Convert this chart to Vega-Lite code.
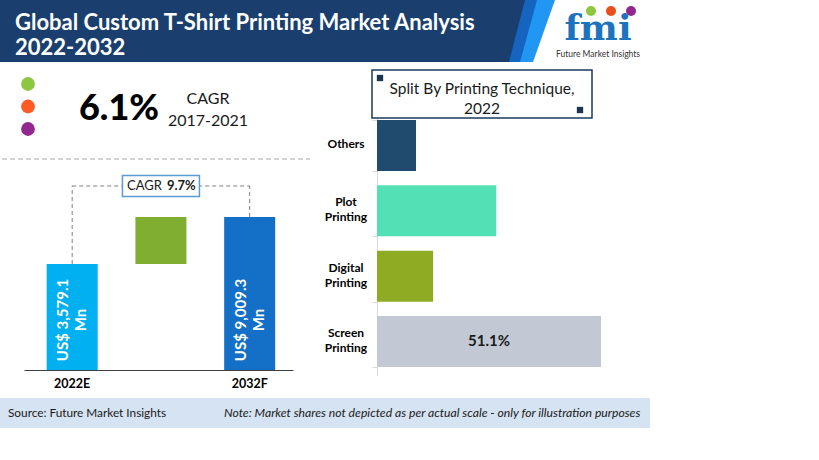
{
  "$schema": "https://vega.github.io/schema/vega-lite/v6.json",
  "width": 819,
  "height": 460,
  "autosize": {"type": "none"},
  "padding": 0,
  "background": "white",
  "config": {"view": {"stroke": null}, "font": "Lato", "text": {"font": "Lato"}, "axis": {"labelFont": "Lato"}},
  "resolve": {"scale": {"x": "independent", "y": "independent", "color": "independent"}, "axis": {"x": "independent", "y": "independent"}},
  "layer": [
    {"data": {"values": [{}]}, "mark": {"type": "point", "shape": "M0,0H555L533,62H0Z", "size": 4, "filled": true, "fill": "#2196f3", "opacity": 1, "strokeWidth": 0}, "encoding": {"x": {"value": 0}, "y": {"value": 0}}},
    {"data": {"values": [{}]}, "mark": {"type": "point", "shape": "M0,0H537L520,62H0Z", "size": 4, "filled": true, "fill": "#1565c0", "opacity": 1, "strokeWidth": 0}, "encoding": {"x": {"value": 0}, "y": {"value": 0}}},
    {"data": {"values": [{}]}, "mark": {"type": "point", "shape": "M0,0H525L509,62H0Z", "size": 4, "filled": true, "fill": "#1a3f6e", "opacity": 1, "strokeWidth": 0}, "encoding": {"x": {"value": 0}, "y": {"value": 0}}},
    {"data": {"values": [{"line": "a", "t": "Global Custom T-Shirt Printing Market Analysis"}, {"line": "b", "t": "2022-2032"}]}, "mark": {"type": "text", "align": "left", "baseline": "alphabetic", "fontSize": 22, "fontWeight": "bold", "color": "white"}, "encoding": {"x": {"value": 15}, "y": {"field": "line", "type": "nominal", "scale": {"type": "point", "domain": ["a", "b"], "range": [30, 55], "padding": 0}, "axis": null}, "text": {"field": "t"}}},
    {"data": {"values": [{"t": "fmi"}]}, "mark": {"type": "text", "align": "center", "baseline": "alphabetic", "font": "DejaVu Serif", "fontSize": 36, "fontWeight": "bold", "color": "#1e73be"}, "encoding": {"x": {"value": 598}, "y": {"value": 40}, "text": {"field": "t"}}},
    {"data": {"values": [{"c": "g"}, {"c": "r"}, {"c": "p"}]}, "mark": {"type": "point", "filled": true, "opacity": 1, "size": 100}, "encoding": {"x": {"field": "c", "type": "nominal", "scale": {"type": "point", "domain": ["g", "r", "p"], "range": [591, 631], "padding": 0}, "axis": null}, "y": {"value": 11}, "color": {"field": "c", "type": "nominal", "scale": {"domain": ["g", "r", "p"], "range": ["#8dc63f", "#e94e1b", "#92278f"]}, "legend": null}}},
    {"data": {"values": [{"t": "Future Market Insights"}]}, "mark": {"type": "text", "align": "center", "baseline": "middle", "fontSize": 8.5, "color": "#333333"}, "encoding": {"x": {"value": 598}, "y": {"value": 54}, "text": {"field": "t"}}},
    {"data": {"values": [{"k": "a"}, {"k": "b"}, {"k": "c"}]}, "mark": {"type": "point", "filled": true, "opacity": 1, "size": 190}, "encoding": {"x": {"value": 28}, "y": {"field": "k", "type": "nominal", "scale": {"type": "point", "domain": ["a", "b", "c"], "range": [84, 129], "padding": 0}, "axis": null}, "color": {"field": "k", "type": "nominal", "scale": {"domain": ["a", "b", "c"], "range": ["#8dc63f", "#ff5a26", "#92278f"]}, "legend": null}}},
    {"data": {"values": [{"t": "6.1%"}]}, "mark": {"type": "text", "align": "center", "baseline": "alphabetic", "fontSize": 36, "fontWeight": 900, "color": "#000000"}, "encoding": {"x": {"value": 119}, "y": {"value": 120}, "text": {"field": "t"}}},
    {"data": {"values": [{"t": "CAGR\n2017-2021"}]}, "mark": {"type": "text", "lineBreak": "\n", "align": "center", "baseline": "alphabetic", "fontSize": 16, "fontWeight": "normal", "color": "#1a1a1a", "lineHeight": 22}, "encoding": {"x": {"value": 208}, "y": {"value": 104}, "text": {"field": "t"}}},
    {"data": {"values": [{}]}, "mark": {"type": "rule", "strokeDash": [5, 3], "color": "#a6a6a6", "strokeWidth": 1}, "encoding": {"x": {"value": 2}, "x2": {"value": 310}, "y": {"value": 159}}},
    {
      "data": {"values": [
        {"stage": "2022E", "kind": "total", "start": 0, "value": 3579.1, "label": "US$ 3,579.1\nMn"},
        {"stage": "Growth", "kind": "increment", "start": 3579.1, "value": 9009.3, "label": ""},
        {"stage": "2032F", "kind": "total", "start": 0, "value": 9009.3, "label": "US$ 9,009.3\nMn"}
      ]},
      "encoding": {
        "x": {"field": "stage", "type": "nominal", "sort": null,
          "scale": {"domain": ["2022E", "Growth", "2032F"], "range": [24, 293], "paddingInner": 0.425, "paddingOuter": 0.228, "align": 0.56},
          "axis": {"orient": "bottom", "offset": -90, "title": null, "ticks": false, "grid": false, "labelAngle": 0, "labelBaseline": "top", "domainColor": "#404040", "domainWidth": 1, "labelFontWeight": "bold", "labelFontSize": 12.5, "labelColor": "#000000", "labelPadding": 7, "labelExpr": "datum.value == 'Growth' ? '' : datum.value"}}
      },
      "layer": [
        {"mark": {"type": "bar"}, "encoding": {
          "y": {"field": "value", "type": "quantitative", "scale": {"type": "symlog", "constant": 660, "domain": [0, 19536], "range": [370, 175], "nice": false, "zero": true}, "axis": null},
          "y2": {"field": "start"},
          "color": {"field": "stage", "type": "nominal", "scale": {"domain": ["2022E", "Growth", "2032F"], "range": ["#00b0f0", "#80ae30", "#1370c6"]}, "legend": null}}},
        {"transform": [{"filter": "datum.kind == 'total'"}], "mark": {"type": "rule", "strokeDash": [4, 3], "color": "#808080", "strokeWidth": 1}, "encoding": {"y": {"field": "value", "type": "quantitative"}, "y2": {"datum": 16000}}},
        {"data": {"values": [{"from": "2022E", "to": "2032F", "level": 16000}]}, "mark": {"type": "rule", "strokeDash": [4, 3], "color": "#808080", "strokeWidth": 1}, "encoding": {"x": {"field": "from", "type": "nominal"}, "x2": {"field": "to"}, "y": {"field": "level", "type": "quantitative"}}},
        {"data": {"values": [{"stage": "Growth", "level": 16000}]}, "mark": {"type": "point", "shape": "M-38.5,-10.5H38.5V10.5H-38.5Z", "size": 4, "filled": true, "fill": "white", "stroke": "#5b9bd5", "strokeWidth": 1.5, "opacity": 1}, "encoding": {"x": {"field": "stage", "type": "nominal"}, "y": {"field": "level", "type": "quantitative"}}},
        {"data": {"values": [{"stage": "Growth", "level": 16000, "t": "CAGR"}]}, "mark": {"type": "text", "align": "right", "baseline": "middle", "dx": 1, "fontSize": 13, "color": "#1a1a1a"}, "encoding": {"x": {"field": "stage", "type": "nominal"}, "y": {"field": "level", "type": "quantitative"}, "text": {"field": "t"}}},
        {"data": {"values": [{"stage": "Growth", "level": 16000, "t": "9.7%"}]}, "mark": {"type": "text", "align": "left", "baseline": "middle", "dx": 6, "fontSize": 13, "fontWeight": "bold", "color": "#1a1a1a"}, "encoding": {"x": {"field": "stage", "type": "nominal"}, "y": {"field": "level", "type": "quantitative"}, "text": {"field": "t"}}},
        {"transform": [{"filter": "datum.kind == 'total'"}], "mark": {"type": "text", "angle": 270, "lineBreak": "\n", "dx": 50, "dy": -9, "align": "center", "baseline": "middle", "fontSize": 15, "fontWeight": "bold", "color": "white", "lineHeight": 18}, "encoding": {"y": {"datum": 0}, "text": {"field": "label"}}}
      ]
    },
    {
      "data": {"values": [
        {"technique": "Others", "share": 0.089},
        {"technique": "Plot Printing", "share": 0.272},
        {"technique": "Digital Printing", "share": 0.128},
        {"technique": "Screen Printing", "share": 0.511}
      ]},
      "encoding": {
        "y": {"field": "technique", "type": "nominal", "sort": null,
          "scale": {"domain": ["Others", "Plot Printing", "Digital Printing", "Screen Printing"], "range": [112, 375], "paddingInner": 0.22, "paddingOuter": 0.123},
          "axis": {"orient": "left", "offset": -377, "title": null, "grid": false, "labels": false, "domainColor": "#d9d9d9", "tickColor": "#d9d9d9", "tickSize": 5, "tickBand": "extent"}}
      },
      "layer": [
        {"mark": {"type": "bar"}, "encoding": {
          "x": {"field": "share", "type": "quantitative", "scale": {"domain": [0, 0.511], "range": [377, 601], "nice": false, "zero": true}, "axis": null},
          "color": {"field": "technique", "type": "nominal", "scale": {"domain": ["Others", "Plot Printing", "Digital Printing", "Screen Printing"], "range": ["#204a6e", "#53e0b5", "#8faa23", "#c3c9d4"]}, "legend": null}}},
        {"transform": [{"filter": "datum.technique == 'Screen Printing'"}], "mark": {"type": "text", "dx": -112, "align": "center", "baseline": "middle", "fontSize": 15, "fontWeight": "bold", "color": "#1a1a1a"}, "encoding": {"x": {"field": "share", "type": "quantitative"}, "text": {"field": "share", "type": "quantitative", "format": ".1%"}}},
        {"transform": [{"filter": "datum.technique == 'Others'"}], "mark": {"type": "text", "dx": -31, "dy": -2, "align": "center", "baseline": "middle", "fontSize": 12, "fontWeight": "bold", "color": "#000000"}, "encoding": {"x": {"datum": 0, "type": "quantitative"}, "text": {"field": "technique"}}},
        {"transform": [{"filter": "datum.technique != 'Others'"}], "mark": {"type": "text", "lineBreak": " ", "lineHeight": 15, "dx": -31, "dy": -8.5, "align": "center", "baseline": "middle", "fontSize": 12, "fontWeight": "bold", "color": "#000000"}, "encoding": {"x": {"datum": 0, "type": "quantitative"}, "text": {"field": "technique"}}}
      ]
    },
    {"data": {"values": [{}]}, "mark": {"type": "point", "shape": "M-110,-24H110V24H-110Z", "size": 4, "filled": true, "fill": "white", "stroke": "#1a3a5c", "strokeWidth": 1.5, "opacity": 1}, "encoding": {"x": {"value": 482}, "y": {"value": 94}}},
    {"data": {"values": [{"c": "tl"}, {"c": "br"}]}, "mark": {"type": "point", "shape": "square", "filled": true, "opacity": 1, "size": 40, "color": "#1a3550"}, "encoding": {"x": {"field": "c", "type": "nominal", "scale": {"type": "point", "domain": ["tl", "br"], "range": [380, 580], "padding": 0}, "axis": null}, "y": {"field": "c", "type": "nominal", "scale": {"type": "point", "domain": ["tl", "br"], "range": [78, 110], "padding": 0}, "axis": null}}},
    {"data": {"values": [{"t": "Split By Printing Technique,\n2022"}]}, "mark": {"type": "text", "lineBreak": "\n", "align": "center", "baseline": "alphabetic", "fontSize": 15.5, "color": "#1a1a1a", "lineHeight": 20}, "encoding": {"x": {"value": 482}, "y": {"value": 94}, "text": {"field": "t"}}},
    {"data": {"values": [{}]}, "mark": {"type": "rect", "color": "#d5e3f2"}, "encoding": {"x": {"value": 0}, "x2": {"value": 650}, "y": {"value": 398}, "y2": {"value": 428}}},
    {"data": {"values": [{"t": "Source: Future Market Insights"}]}, "mark": {"type": "text", "align": "left", "baseline": "middle", "fontSize": 11.8, "color": "#1a1a1a"}, "encoding": {"x": {"value": 8}, "y": {"value": 413}, "text": {"field": "t"}}},
    {"data": {"values": [{"t": "Note: Market shares not depicted as per actual scale - only for illustration purposes"}]}, "mark": {"type": "text", "align": "left", "baseline": "middle", "fontSize": 12.2, "fontStyle": "italic", "color": "#1a1a1a"}, "encoding": {"x": {"value": 224}, "y": {"value": 413}, "text": {"field": "t"}}}
  ]
}
